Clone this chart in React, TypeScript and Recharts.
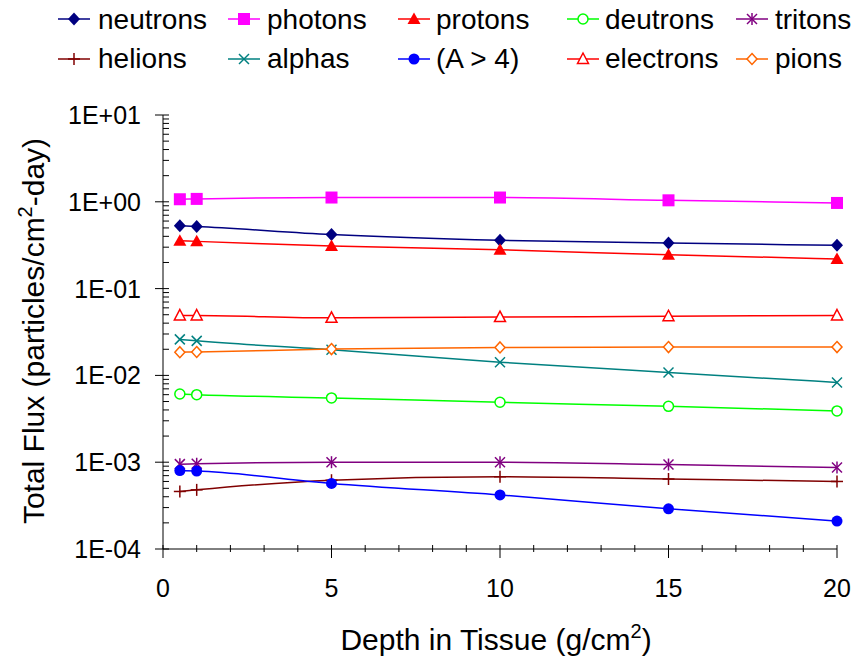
import React from 'react';
import { LineChart, Line, XAxis, YAxis } from 'recharts';

// depth in tissue, g/cm2
const depths = [0.5, 1, 5, 10, 15, 20];

// total flux, particles/cm2-day
const neutrons = [0.53, 0.52, 0.42, 0.36, 0.335, 0.315];
const photons = [1.07, 1.08, 1.12, 1.12, 1.04, 0.97];
const protons = [0.355, 0.35, 0.31, 0.28, 0.245, 0.22];
const deutrons = [0.0061, 0.006, 0.0055, 0.0049, 0.0044, 0.0039];
const tritons = [0.00095, 0.00096, 0.001, 0.001, 0.00094, 0.00087];
const helions = [0.00046, 0.00048, 0.00062, 0.00068, 0.00064, 0.0006];
const alphas = [0.026, 0.025, 0.0197, 0.0142, 0.0108, 0.0083];
const heavy = [0.0008, 0.00079, 0.00057, 0.00042, 0.00029, 0.00021];
const electrons = [0.049, 0.049, 0.046, 0.047, 0.048, 0.049];
const pions = [0.0185, 0.0186, 0.0201, 0.021, 0.0212, 0.0212];

const yMajor = [1e-4, 1e-3, 1e-2, 1e-1, 1, 10];
const yLabels = ['1E-04', '1E-03', '1E-02', '1E-01', '1E+00', '1E+01'];
const xTicks = [0, 1, 2, 3, 4, 5, 6, 7, 8, 9, 10, 11, 12, 13, 14, 15, 16, 17, 18, 19, 20];
const xLabelled = [0, 5, 10, 15, 20];

const data = depths.map((depth, i) => ({
  depth,
  neutrons: neutrons[i],
  photons: photons[i],
  protons: protons[i],
  deutrons: deutrons[i],
  tritons: tritons[i],
  helions: helions[i],
  alphas: alphas[i],
  heavy: heavy[i],
  electrons: electrons[i],
  pions: pions[i],
}));

// minor log ticks 2..9 in every decade
const yMinor: number[] = [];
yMajor.slice(0, -1).forEach((m) => {
  for (let k = 2; k <= 9; k++) yMinor.push(m * k);
});
const yTicks = [...yMajor, ...yMinor].sort((a, b) => a - b);

const FONT = '"Liberation Sans", Arial, sans-serif';
const W = 856;
const H = 660;
const PL = 163;
const PB = 549;

type Shape =
  | 'diamond'
  | 'square'
  | 'triangle'
  | 'circleOpen'
  | 'asterisk'
  | 'plus'
  | 'x'
  | 'circle'
  | 'triangleOpen'
  | 'diamondOpen';

const series: { key: string; name: string; color: string; shape: Shape }[] = [
  { key: 'neutrons', name: 'neutrons', color: '#000080', shape: 'diamond' },
  { key: 'photons', name: 'photons', color: '#FF00FF', shape: 'square' },
  { key: 'protons', name: 'protons', color: '#FF0000', shape: 'triangle' },
  { key: 'deutrons', name: 'deutrons', color: '#00FF00', shape: 'circleOpen' },
  { key: 'tritons', name: 'tritons', color: '#800080', shape: 'asterisk' },
  { key: 'helions', name: 'helions', color: '#800000', shape: 'plus' },
  { key: 'alphas', name: 'alphas', color: '#008080', shape: 'x' },
  { key: 'heavy', name: '(A > 4)', color: '#0000FF', shape: 'circle' },
  { key: 'electrons', name: 'electrons', color: '#FF0000', shape: 'triangleOpen' },
  { key: 'pions', name: 'pions', color: '#FF6600', shape: 'diamondOpen' },
];

function Marker({ shape, color, cx, cy }: { shape: Shape; color: string; cx: number; cy: number }) {
  const sw = 1.5;
  switch (shape) {
    case 'diamond':
      return <path d={`M${cx} ${cy - 6.5}L${cx + 6} ${cy}L${cx} ${cy + 6.5}L${cx - 6} ${cy}Z`} fill={color} />;
    case 'diamondOpen':
      return (
        <path
          d={`M${cx} ${cy - 5.5}L${cx + 5} ${cy}L${cx} ${cy + 5.5}L${cx - 5} ${cy}Z`}
          fill="#fff"
          stroke={color}
          strokeWidth={sw}
        />
      );
    case 'square':
      return <rect x={cx - 6} y={cy - 6} width={12} height={12} fill={color} />;
    case 'triangle':
      return <path d={`M${cx} ${cy - 6.5}L${cx + 6.5} ${cy + 5}L${cx - 6.5} ${cy + 5}Z`} fill={color} />;
    case 'triangleOpen':
      return (
        <path
          d={`M${cx} ${cy - 6}L${cx + 5.5} ${cy + 4.5}L${cx - 5.5} ${cy + 4.5}Z`}
          fill="#fff"
          stroke={color}
          strokeWidth={sw}
        />
      );
    case 'circle':
      return <circle cx={cx} cy={cy} r={5.5} fill={color} />;
    case 'circleOpen':
      return <circle cx={cx} cy={cy} r={5} fill="#fff" stroke={color} strokeWidth={sw} />;
    case 'plus':
      return (
        <g stroke={color} strokeWidth={sw}>
          <line x1={cx - 6} x2={cx + 6} y1={cy} y2={cy} />
          <line x1={cx} x2={cx} y1={cy - 6} y2={cy + 6} />
        </g>
      );
    case 'x':
      return (
        <g stroke={color} strokeWidth={sw}>
          <line x1={cx - 5} x2={cx + 5} y1={cy - 5} y2={cy + 5} />
          <line x1={cx - 5} x2={cx + 5} y1={cy + 5} y2={cy - 5} />
        </g>
      );
    case 'asterisk':
      return (
        <g stroke={color} strokeWidth={sw}>
          <line x1={cx - 5} x2={cx + 5} y1={cy - 5} y2={cy + 5} />
          <line x1={cx - 5} x2={cx + 5} y1={cy + 5} y2={cy - 5} />
          <line x1={cx} x2={cx} y1={cy - 6} y2={cy + 6} />
        </g>
      );
  }
  return null;
}

const YTick = (props: any) => {
  const { y, payload } = props;
  const v = payload.value;
  const idx = yMajor.findIndex((m) => Math.abs(m - v) / m < 1e-6);
  if (idx < 0) return <line x1={PL} x2={PL + 6} y1={y} y2={y} stroke="#000" strokeWidth={1} />;
  return (
    <g>
      <line x1={PL - 8} x2={PL + 6} y1={y} y2={y} stroke="#000" strokeWidth={1} />
      <text x={PL - 22} y={y + 9} textAnchor="end" fontSize={25} fontFamily={FONT} fill="#000">
        {yLabels[idx]}
      </text>
    </g>
  );
};

const XTick = (props: any) => {
  const { x, payload } = props;
  const major = xLabelled.includes(payload.value);
  return (
    <g>
      <line x1={x} x2={x} y1={PB - 4} y2={major ? PB + 9 : PB + 3} stroke="#000" strokeWidth={1} />
      {major && (
        <text x={x} y={597} textAnchor="middle" fontSize={25} fontFamily={FONT} fill="#000">
          {payload.value}
        </text>
      )}
    </g>
  );
};

const legendMarkX = [74, 244, 414, 583, 752];
const legendTextX = [98, 267, 436, 605, 775];
const legendMarkY = [19, 59];
const legendTextY = [29, 68];

export default function App() {
  return (
    <div style={{ position: 'absolute', left: 0, top: 0, width: W, height: H, background: '#fff' }}>
      <LineChart width={W} height={H} data={data} margin={{ top: 115, right: 19, left: 63, bottom: 51 }}>
        <XAxis
          dataKey="depth"
          type="number"
          domain={[0, 20]}
          ticks={xTicks}
          interval={0}
          height={60}
          tick={<XTick />}
          tickLine={false}
          tickSize={0}
          tickMargin={0}
          axisLine={{ stroke: '#000', strokeWidth: 1 }}
        />
        <YAxis
          type="number"
          scale="log"
          domain={[1e-4, 10]}
          allowDataOverflow
          ticks={yTicks}
          interval={0}
          width={100}
          tick={<YTick />}
          tickLine={false}
          tickSize={0}
          tickMargin={0}
          axisLine={{ stroke: '#000', strokeWidth: 1 }}
        />
        {series.map((s) => (
          <Line
            key={s.key}
            dataKey={s.key}
            name={s.name}
            type="monotone"
            stroke={s.color}
            strokeWidth={1.5}
            activeDot={false}
            isAnimationActive={false}
            dot={(p: any) => <Marker key={`${s.key}-${p.index}`} shape={s.shape} color={s.color} cx={p.cx} cy={p.cy} />}
          />
        ))}
      </LineChart>
      <svg
        width={W}
        height={H}
        style={{ position: 'absolute', left: 0, top: 0, pointerEvents: 'none' }}
        fontFamily={FONT}
      >
        {series.map((s, i) => {
          const col = i % 5;
          const row = Math.floor(i / 5);
          const mx = legendMarkX[col];
          const my = legendMarkY[row];
          return (
            <g key={s.key}>
              <line x1={mx - 16} x2={mx + 16} y1={my} y2={my} stroke={s.color} strokeWidth={1.5} />
              <Marker shape={s.shape} color={s.color} cx={mx} cy={my} />
              <text x={legendTextX[col]} y={legendTextY[row]} fontSize={28} fill="#000">
                {s.name}
              </text>
            </g>
          );
        })}
        <text transform="translate(44,331) rotate(-90)" textAnchor="middle" fontSize={30} fill="#000">
          Total Flux (particles/cm
          <tspan dy={-12} fontSize={20}>
            2
          </tspan>
          <tspan dy={12}>-day)</tspan>
        </text>
        <text x={496} y={650} textAnchor="middle" fontSize={30} fill="#000">
          Depth in Tissue (g/cm
          <tspan dy={-12} fontSize={20}>
            2
          </tspan>
          <tspan dy={12}>)</tspan>
        </text>
      </svg>
    </div>
  );
}
